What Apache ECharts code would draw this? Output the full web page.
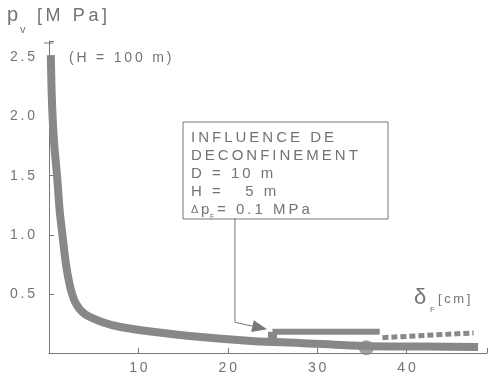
<!DOCTYPE html>
<html><head><meta charset="utf-8">
<script src="https://cdn.jsdelivr.net/npm/echarts@6/dist/echarts.min.js"></script>
<style>html,body{margin:0;padding:0;background:#fff}#c{width:490px;height:380px}</style>
</head><body><div id="c"></div>
<script>
const curveX = [0.2,0.3,0.4,0.6,0.9,1.2,1.5,1.9,2.4,3,4,6,8,11.6,17,23,28,35,42,48];
const curveY = [2.52,2.2,2.0,1.75,1.5,1.2,1.0,0.75,0.55,0.42,0.33,0.26,0.22,0.18,0.135,0.1,0.085,0.06,0.055,0.05];
const barX = [25,37];
const barY = [0.18,0.18];
const stemX = [25,25];
const stemY = [0.18,0.07];
const dashX = [37.3,47.5];
const dashY = [0.13,0.17];
const dotX = [35.5];
const dotY = [0.045];
const xTicks = [10,20,30,40];
const yTicks = [0.5,1.0,1.5,2.0,2.5];
const boxLines = ['INFLUENCE DE','DECONFINEMENT','D = 10 m','H =   5 m'];
const gray = '#888';
const txt = '#737373';
const sp = s => s.split('').join('\u2009');
const zip = (a,b)=>a.map((v,i)=>[v,b[i]]);
const chart = echarts.init(document.getElementById('c'));
chart.setOption({
  animation:false,
  backgroundColor:'#fff',
  grid:{left:49,right:3,top:41,bottom:27},
  xAxis:{type:'value',min:0,max:49,interval:10,
    axisLine:{lineStyle:{color:'#777',width:1}},
    axisTick:{inside:true,length:5,lineStyle:{color:'#777'}},
    splitLine:{show:false},
    axisLabel:{color:txt,fontSize:14,fontFamily:'Liberation Sans',margin:8,
      formatter:v=>xTicks.includes(v)?sp(String(v)):''}},
  yAxis:{type:'value',min:0,max:2.64,interval:0.5,
    axisLine:{show:true,lineStyle:{color:'#777',width:1}},
    axisTick:{inside:true,length:5,lineStyle:{color:'#777'}},
    splitLine:{show:false},
    axisLabel:{color:txt,fontSize:14,fontFamily:'Liberation Sans',margin:14,
      formatter:v=>yTicks.some(t=>Math.abs(t-v)<1e-6)?sp(v.toFixed(1)):''}},
  series:[
    {type:'line',data:zip(curveX,curveY),smooth:0.3,symbol:'none',lineStyle:{color:gray,width:8},z:3},
    {type:'line',data:zip(barX,barY),symbol:'none',lineStyle:{color:gray,width:6},z:4},
    {type:'line',data:zip(stemX,stemY),symbol:'none',lineStyle:{color:gray,width:9},z:4},
    {type:'line',data:zip(dashX,dashY),symbol:'none',lineStyle:{color:gray,width:5,type:[6,3]},z:4},
    {type:'scatter',data:zip(dotX,dotY),symbolSize:15,itemStyle:{color:gray},z:5}
  ]
});
const p1 = chart.convertToPixel({gridIndex:0},[20.8,1.14]);
const p2 = chart.convertToPixel({gridIndex:0},[20.8,0.26]);
const p3 = chart.convertToPixel({gridIndex:0},[24.4,0.2]);
const ang = Math.atan2(p3[1]-p2[1],p3[0]-p2[0]);
const rot = (dx,dy)=>[p3[0]+dx*Math.cos(ang)-dy*Math.sin(ang),p3[1]+dx*Math.sin(ang)+dy*Math.cos(ang)];
const g = [
  {type:'text',left:7,top:5,style:{text:'p',fill:txt,font:'20px "Liberation Sans"'}},
  {type:'text',left:20,top:24,style:{text:'v',fill:txt,font:'11px "Liberation Sans"'}},
  {type:'text',left:37,top:7,style:{text:sp('[M Pa]'),fill:txt,font:'18px "Liberation Sans"'}},
  {type:'text',left:69,top:51,style:{text:sp('(H = 100 m)'),fill:txt,font:'14px "Liberation Sans"'}},
  {type:'rect',shape:{x:183,y:122,width:205,height:97},style:{fill:'#fff',stroke:'#777',lineWidth:1}},
  {type:'text',left:414,top:287,style:{text:'δ',fill:txt,font:'22px "Liberation Sans"'}},
  {type:'text',left:430,top:306,style:{text:'F',fill:txt,font:'8px "Liberation Sans"'}},
  {type:'text',left:438,top:293,style:{text:sp('[cm]'),fill:txt,font:'13px "Liberation Sans"'}},
  {type:'polyline',shape:{points:[p1,p2,rot(-8,0)]},style:{stroke:'#777',lineWidth:1,fill:null}},
  {type:'polygon',shape:{points:[p3,rot(-15,-6),rot(-15,6)]},style:{fill:'#777'}},
  {type:'line',shape:{x1:44,y1:43,x2:53,y2:43},style:{stroke:'#777',lineWidth:1}}
];
boxLines.forEach((s,i)=>g.push({type:'text',left:191,top:130+i*18,style:{text:sp(s),fill:txt,font:'15px "Liberation Sans"'}}));
const ly = 130+4*18;
g.push({type:'text',left:191,top:ly+2,style:{text:'\u0394',fill:txt,font:'11px "Liberation Sans"'}});
g.push({type:'text',left:201,top:ly,style:{text:'p',fill:txt,font:'15px "Liberation Sans"'}});
g.push({type:'text',left:210,top:ly+12,style:{text:'F',fill:txt,font:'7px "Liberation Sans"'}});
g.push({type:'text',left:217,top:ly,style:{text:sp('= 0.1 MPa'),fill:txt,font:'15px "Liberation Sans"'}});
chart.setOption({graphic:g});
</script></body></html>
